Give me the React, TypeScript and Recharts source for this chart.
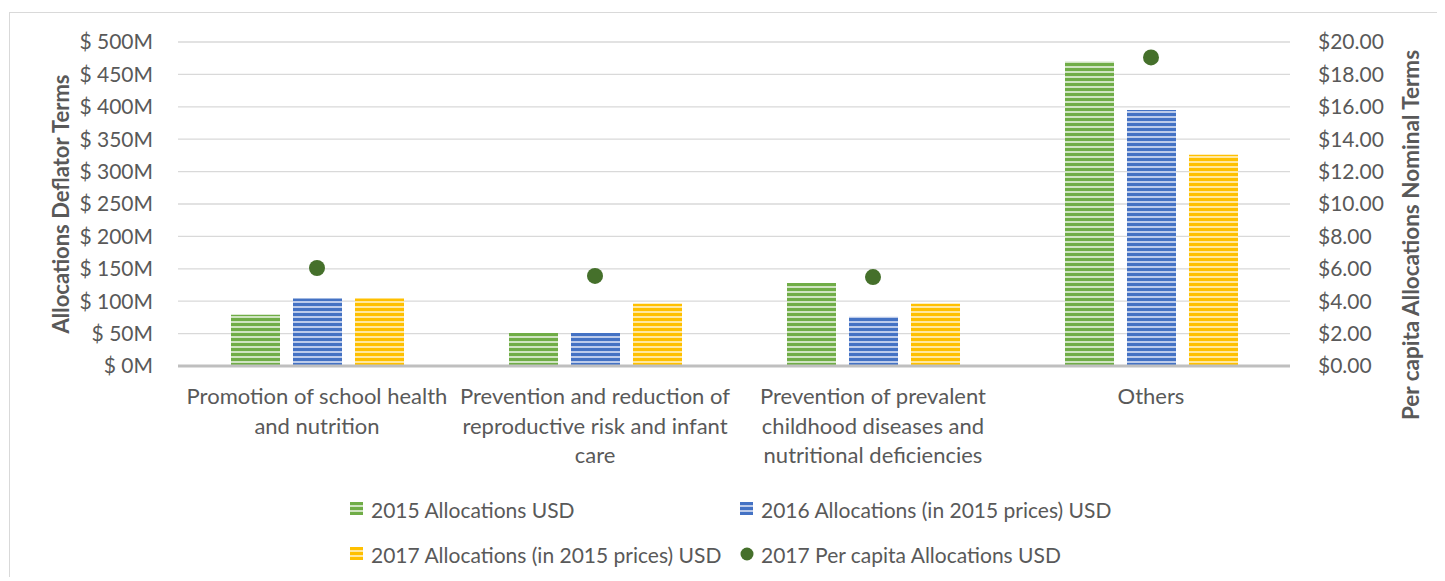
import { ComposedChart, Bar, Scatter, XAxis, YAxis, CartesianGrid } from "recharts";

const categories = [
  "Promotion of school health and nutrition",
  "Prevention and reduction of reproductive risk and infant care",
  "Prevention of prevalent childhood diseases and nutritional deficiencies",
  "Others",
];
const categoryLines = [
  ["Promotion of school health", "and nutrition"],
  ["Prevention and reduction of", "reproductive risk and infant", "care"],
  ["Prevention of prevalent", "childhood diseases and", "nutritional deficiencies"],
  ["Others"],
];
// millions USD
const alloc2015 = [79, 51, 128, 470];
const alloc2016 = [104, 51, 76, 395];
const alloc2017 = [104, 96, 96, 326];
// USD per capita
const perCapita2017 = [6.05, 5.56, 5.49, 19.05];

const leftTicks = [0, 50, 100, 150, 200, 250, 300, 350, 400, 450, 500];
const rightTicks = [0, 2, 4, 6, 8, 10, 12, 14, 16, 18, 20];

const data = categories.map((name, i) => ({
  name,
  a2015: alloc2015[i],
  a2016: alloc2016[i],
  a2017: alloc2017[i],
  pc2017: perCapita2017[i],
}));

const FONT = "Lato, 'Open Sans', sans-serif";
const TEXT = "#595959";
const DOT = "#45702b";

const CategoryTick = (props: any) => {
  const { x, y, payload } = props;
  const lines = categoryLines[payload.index] ?? [String(payload.value)];
  return (
    <text x={x} y={y + 38} textAnchor="middle" fill={TEXT} fontSize={22} fontFamily={FONT}>
      {lines.map((l, i) => (
        <tspan key={i} x={x} dy={i === 0 ? 0 : 29.5}>
          {l}
        </tspan>
      ))}
    </text>
  );
};

const legendItems = [
  { label: "2015 Allocations USD", fill: "url(#stripeGreen)", left: 340, top: 489 },
  { label: "2016 Allocations (in 2015 prices) USD", fill: "url(#stripeBlue)", left: 730, top: 489 },
  { label: "2017 Allocations (in 2015 prices) USD", fill: "url(#stripeYellow)", left: 340, top: 534 },
  { label: "2017 Per capita Allocations USD", fill: DOT, left: 730, top: 534, dot: true },
];

function Stripes({ id, color, light }: { id: string; color: string; light: string }) {
  return (
    <pattern id={id} width={8} height={5} patternUnits="userSpaceOnUse">
      <rect width={8} height={5} fill={color} />
      <rect y={3} width={8} height={2} fill={light} />
    </pattern>
  );
}

const axisTitle = (text: string, dx: number, dy: number | null, size: number) =>
  ({ viewBox }: any) => {
    const cx = viewBox.x + dx;
    const cy = viewBox.y + (dy ?? viewBox.height / 2);
    return (
      <text
        x={cx}
        y={cy}
        transform={`rotate(-90, ${cx}, ${cy})`}
        textAnchor="middle"
        dominantBaseline="central"
        fontSize={size}
        fontWeight="bold"
        fill={TEXT}
        fontFamily={FONT}
      >
        {text}
      </text>
    );
  };

export default function App() {
  return (
    <div
      style={{
        position: "relative",
        top: 4,
        left: 1,
        width: 1435,
        height: 568,
        borderTop: "1px solid #d9d9d9",
        borderLeft: "1px solid #d9d9d9",
        background: "#fff",
        fontFamily: FONT,
      }}
    >
      <style>{`html,body{overflow:hidden}`}</style>
      <svg width={0} height={0} style={{ position: "absolute" }}>
        <defs>
          <Stripes id="stripeGreen" color="#70ad47" light="#cfe4c1" />
          <Stripes id="stripeBlue" color="#4472c4" light="#bccbea" />
          <Stripes id="stripeYellow" color="#ffc000" light="#ffe8a0" />
        </defs>
      </svg>

      <ComposedChart
        width={1435}
        height={568}
        data={data}
        margin={{ top: 29, right: 0, bottom: 0, left: 0 }}
        barSize={49}
        barGap={13}
      >
        <CartesianGrid vertical={false} stroke="#d9d9d9" strokeWidth={1.3} yAxisId="left" />
        <XAxis
          dataKey="name"
          height={215}
          tick={<CategoryTick />}
          tickLine={false}
          tickSize={0}
          tickMargin={0}
          interval={0}
          axisLine={{ stroke: "#bfbfbf", strokeWidth: 3 }}
        />
        <YAxis
          yAxisId="left"
          orientation="left"
          width={168}
          domain={[0, 500]}
          ticks={leftTicks}
          tickFormatter={(v) => `$ ${v}M`}
          tick={{ fontSize: 21, fill: TEXT, fontFamily: FONT }}
          tickLine={false}
          tickSize={0}
          tickMargin={25}
          axisLine={false}
          label={{ content: axisTitle("Allocations Deflator Terms", 50, null, 22) }}
        />
        <YAxis
          yAxisId="right"
          orientation="right"
          width={155}
          domain={[0, 20]}
          ticks={rightTicks}
          tickFormatter={(v) => `$${Number(v).toFixed(2)}`}
          tick={{ fontSize: 21, fill: TEXT, fontFamily: FONT, textAnchor: "start" }}
          tickLine={false}
          tickSize={0}
          tickMargin={28}
          axisLine={false}
          label={{ content: axisTitle("Per capita Allocations Nominal Terms", 120, 193, 22.5) }}
        />
        <Bar yAxisId="left" dataKey="a2015" fill="url(#stripeGreen)" isAnimationActive={false} />
        <Bar yAxisId="left" dataKey="a2016" fill="url(#stripeBlue)" isAnimationActive={false} />
        <Bar yAxisId="left" dataKey="a2017" fill="url(#stripeYellow)" isAnimationActive={false} />
        <Scatter
          yAxisId="right"
          dataKey="pc2017"
          fill={DOT}
          isAnimationActive={false}
          shape={(p: any) => <circle cx={p.cx} cy={p.cy} r={8} fill={DOT} />}
        />
      </ComposedChart>

      {legendItems.map((it) => (
        <div
          key={it.label}
          style={{
            position: "absolute",
            left: it.left,
            top: it.top,
            display: "flex",
            alignItems: "center",
            height: 14,
            whiteSpace: "nowrap",
            fontSize: 21,
            color: TEXT,
          }}
        >
          <svg width={14} height={14} style={{ marginRight: 7, flexShrink: 0 }}>
            {it.dot ? (
              <circle cx={7} cy={7} r={6.5} fill={it.fill} />
            ) : (
              <rect width={13} height={13} fill={it.fill} />
            )}
          </svg>
          <span>{it.label}</span>
        </div>
      ))}
    </div>
  );
}
